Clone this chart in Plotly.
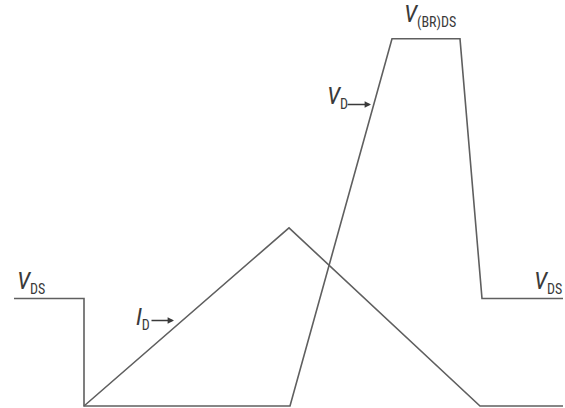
import plotly.graph_objects as go

# waveform breakpoints (time, level above the zero line)
vds_t = [14, 84, 84, 290, 392, 460, 482, 563]
vds_v = [108, 108, 0, 0, 369, 369, 108, 108]

id_t = [84, 289, 480, 563]
id_v = [0, 179, 0, 0]

LINE = "#5f5f5f"
TEXT = "#3a3a3a"
FONT = "Roboto Condensed, Liberation Sans Narrow, Arial"

fig = go.Figure()
fig.add_trace(go.Scatter(x=vds_t, y=vds_v, mode="lines",
                         line=dict(color=LINE, width=1.6), hoverinfo="skip"))
fig.add_trace(go.Scatter(x=id_t, y=id_v, mode="lines",
                         line=dict(color=LINE, width=1.6), hoverinfo="skip"))


def label(x, y, main, sub):
    text = f"<i>{main}</i><sub><span style='font-size:14px'>{sub}</span></sub>"
    fig.add_annotation(x=x, y=y, text=text, showarrow=False,
                       xanchor="left", yanchor="bottom",
                       font=dict(family=FONT, size=24, color=TEXT))


def arrow(x0, x1, y):
    fig.add_annotation(x=x1, y=y, ax=x0, ay=y, axref="x", ayref="y",
                       text="", showarrow=True, arrowhead=2, arrowsize=0.8,
                       arrowwidth=1.6, arrowcolor=TEXT)


label(15, 108, "V", "DS")
label(532, 108, "V", "DS")
label(134, 71, "I", "D")
label(325, 293, "V", "D")
label(402, 375, "V", "(BR)DS")
arrow(150, 174, 86)
arrow(346, 371, 303)

fig.update_xaxes(range=[0, 565], visible=False)
fig.update_yaxes(range=[-2, 408], visible=False)
fig.update_layout(width=565, height=408, margin=dict(l=0, r=0, t=0, b=0),
                  plot_bgcolor="white", paper_bgcolor="white",
                  showlegend=False)

fig.write_html("out.html", config={"displayModeBar": False},
               post_script="document.body.style.margin='0';"
                           "document.body.style.overflow='hidden';")
